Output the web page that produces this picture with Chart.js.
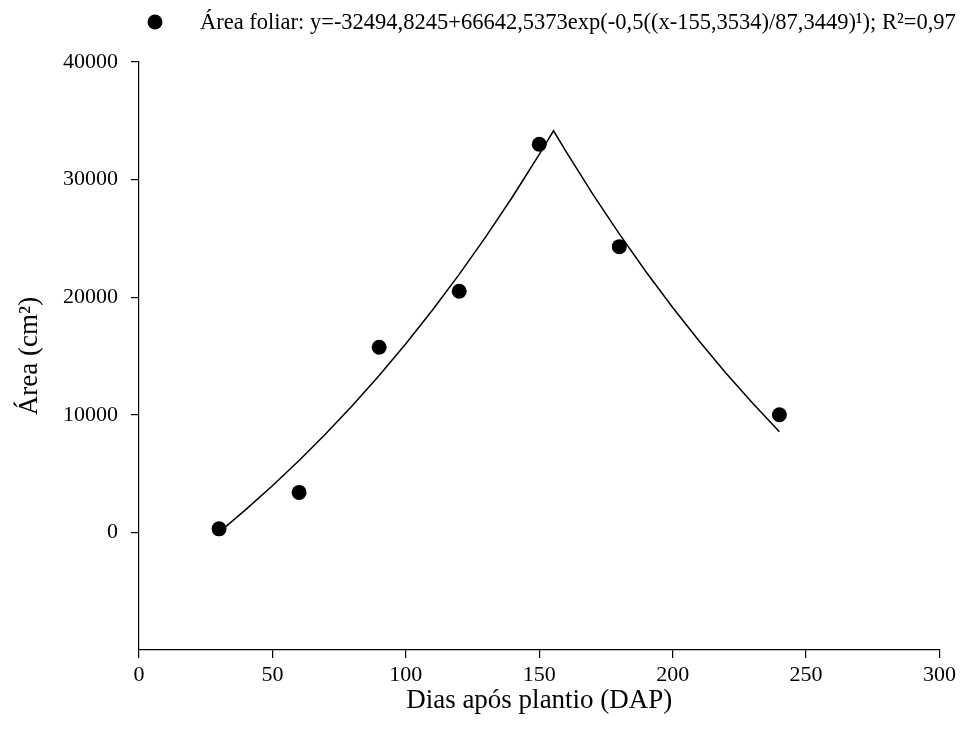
<!DOCTYPE html>
<html>
<head>
<meta charset="utf-8">
<script src="https://cdn.jsdelivr.net/npm/chart.js@4"></script>
<style>
  html, body { margin: 0; padding: 0; background: #fff; }
  #wrap { width: 960px; height: 735px; }
</style>
</head>
<body>
<div id="wrap"><canvas id="c" width="960" height="735"></canvas></div>
<script>
// Observed data (days after planting, leaf area cm²)
const obsX = [30, 60, 90, 120, 150, 180, 240];
const obsY = [300, 3400, 15750, 20500, 33000, 24300, 10000];

// Fitted curve
const fitX = [30, 40, 50, 60, 70, 80, 90, 100, 110, 120, 130, 140, 150, 155.35, 160, 170, 180, 190, 200, 210, 220, 230, 240];
const fitY = [0, 1940, 3970, 6120, 8390, 10800, 13350, 16050, 18910, 21940, 25150, 28540, 32140, 34150, 32400, 28790, 25380, 22160, 19120, 16250, 13540, 10980, 8560];

// Axis ticks
const xTicks = [0, 50, 100, 150, 200, 250, 300];
const yTicks = [0, 10000, 20000, 30000, 40000];

const legendText = 'Área foliar: y=-32494,8245+66642,5373exp(-0,5((x-155,3534)/87,3449)¹); R²=0,97';
const xTitle = 'Dias após plantio (DAP)';
const yTitle = 'Área (cm²)';

const FONT = "'Liberation Serif', 'Times New Roman', serif";

const legendPlugin = {
  id: 'topLegend',
  afterDraw(chart) {
    const ctx = chart.ctx;
    ctx.save();
    ctx.fillStyle = '#000';
    ctx.beginPath();
    ctx.arc(155, 22, 7.5, 0, Math.PI * 2);
    ctx.fill();
    ctx.font = '22.5px ' + FONT;
    ctx.textBaseline = 'middle';
    ctx.textAlign = 'left';
    ctx.fillText(legendText, 200, 23);
    ctx.restore();
  }
};

new Chart(document.getElementById('c'), {
  type: 'scatter',
  data: {
    datasets: [
      {
        label: 'fit',
        data: fitX.map((x, i) => ({ x: x, y: fitY[i] })),
        showLine: true,
        borderColor: '#000',
        borderWidth: 1.5,
        pointRadius: 0,
        tension: 0,
        fill: false
      },
      {
        label: 'Área foliar',
        data: obsX.map((x, i) => ({ x: x, y: obsY[i] })),
        showLine: false,
        pointRadius: 7.5,
        pointBackgroundColor: '#000',
        pointBorderColor: '#000',
        pointBorderWidth: 0
      }
    ]
  },
  options: {
    responsive: false,
    animation: false,
    events: [],
    layout: { padding: { left: 0, right: 15, top: 62, bottom: 0 } },
    plugins: {
      legend: { display: false },
      tooltip: { enabled: false }
    },
    scales: {
      x: {
        type: 'linear',
        min: 0,
        max: 300,
        afterFit(s) { s.height = 85; },
        afterBuildTicks(s) { s.ticks = xTicks.map(v => ({ value: v })); },
        border: { display: true, color: '#000', width: 1.2 },
        grid: { drawOnChartArea: false, drawTicks: true, tickLength: 8, color: '#000', lineWidth: 1.2 },
        ticks: { color: '#000', font: { family: FONT, size: 22 }, padding: 4, maxRotation: 0, callback: v => String(v) },
        title: { display: true, text: xTitle, color: '#000', font: { family: FONT, size: 27 }, padding: { top: 0, bottom: 18 } }
      },
      y: {
        type: 'linear',
        min: -10000,
        max: 40000,
        afterFit(s) { s.width = 139; },
        afterBuildTicks(s) { s.ticks = yTicks.map(v => ({ value: v })); },
        border: { display: true, color: '#000', width: 1.2 },
        grid: { drawOnChartArea: false, drawTicks: true, tickLength: 8, color: '#000', lineWidth: 1.2 },
        ticks: { color: '#000', font: { family: FONT, size: 22 }, padding: 13, callback: v => String(v) },
        title: { display: true, text: yTitle, color: '#000', font: { family: FONT, size: 27 }, padding: { top: 14, bottom: 0 } }
      }
    }
  },
  plugins: [legendPlugin]
});
</script>
</body>
</html>
